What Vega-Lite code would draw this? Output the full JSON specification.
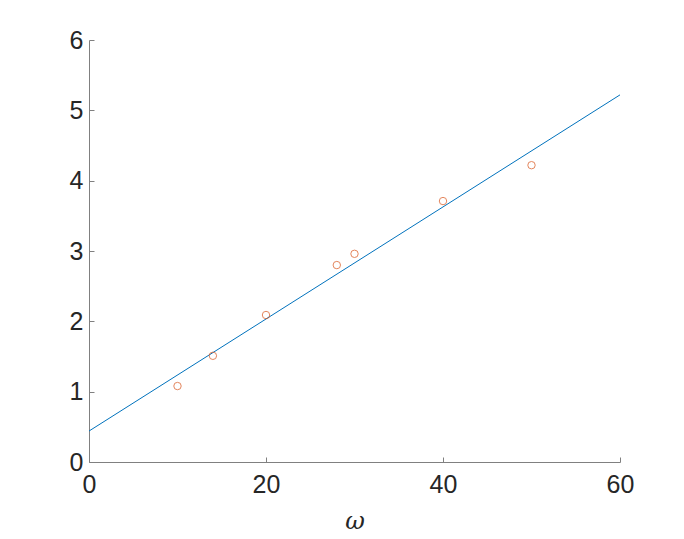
{
  "$schema": "https://vega.github.io/schema/vega-lite/v6.json",
  "width": 531,
  "height": 422,
  "autosize": {"type": "none"},
  "padding": {"left": 89, "top": 40, "right": 64, "bottom": 77},
  "background": "white",
  "config": {
    "view": {"stroke": null},
    "axis": {
      "grid": false,
      "domainColor": "#808080",
      "domainWidth": 1,
      "tickColor": "#808080",
      "tickSize": -5,
      "tickWidth": 1,
      "labelColor": "#262626",
      "labelFont": "Liberation Sans",
      "labelFontSize": 25,
      "labelFlush": false,
      "labelOverlap": false,
      "titleFont": "DejaVu Serif",
      "titleColor": "#262626"
    }
  },
  "datasets": {
    "fit": [{"w": 0, "v": 0.44}, {"w": 60, "v": 5.22}],
    "obs": [
      {"w": 10, "v": 1.08},
      {"w": 14, "v": 1.51},
      {"w": 20, "v": 2.09},
      {"w": 28, "v": 2.8},
      {"w": 30, "v": 2.96},
      {"w": 40, "v": 3.71},
      {"w": 50, "v": 4.22}
    ]
  },
  "layer": [
    {
      "data": {"name": "fit"},
      "mark": {"type": "line", "color": "#0072BD", "strokeWidth": 1},
      "encoding": {
        "x": {"field": "w", "type": "quantitative", "scale": {"domain": [0, 60], "nice": false}, "axis": {"values": [0, 20, 40, 60], "format": "d", "title": "ω", "titleFontSize": 24, "titleFontStyle": "italic", "titleFontWeight": "normal", "titlePadding": 12, "labelPadding": 15}},
        "y": {"field": "v", "type": "quantitative", "scale": {"domain": [0, 6], "nice": false}, "axis": {"values": [0, 1, 2, 3, 4, 5, 6], "format": "d", "title": null, "labelPadding": 11}}
      }
    },
    {
      "data": {"name": "obs"},
      "mark": {"type": "point", "shape": "circle", "filled": false, "color": "#D95319", "size": 55, "strokeWidth": 1},
      "encoding": {
        "x": {"field": "w", "type": "quantitative"},
        "y": {"field": "v", "type": "quantitative"}
      }
    }
  ]
}
